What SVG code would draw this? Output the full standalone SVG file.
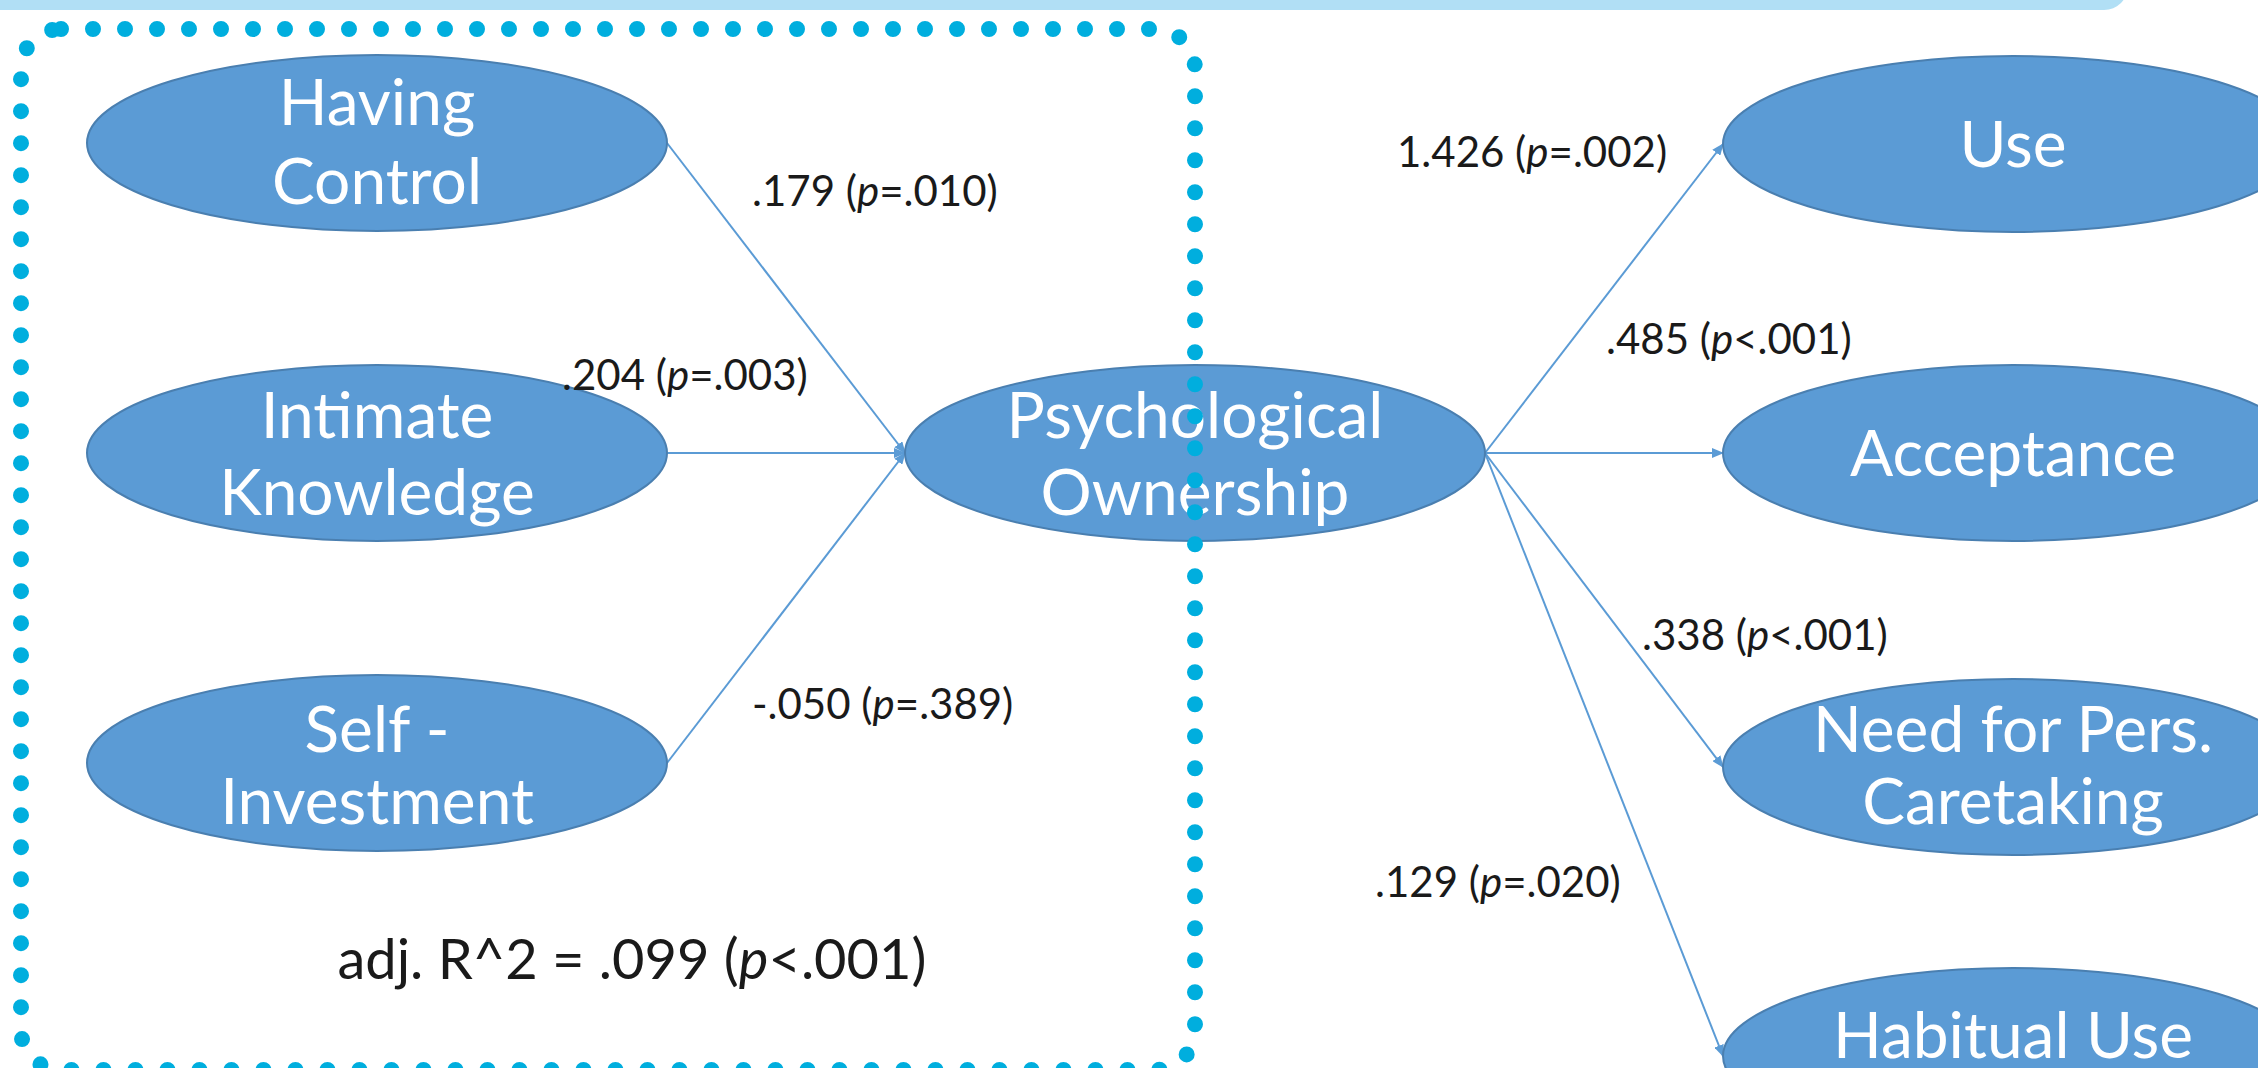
<svg xmlns="http://www.w3.org/2000/svg" width="2258" height="1068" viewBox="0 0 2258 1068">
<defs>
<style>
.node{fill:#5B9BD5;stroke:#4A7FB0;stroke-width:2}
.nt{font-family:Lato,"Open Sans",sans-serif;font-size:64px;fill:#ffffff;text-anchor:middle}
.lbl{font-family:Lato,"Open Sans",sans-serif;font-size:42px;fill:#1a1a1a}
.big{font-family:Lato,"Open Sans",sans-serif;font-size:56px;fill:#1a1a1a;text-anchor:middle}
.conn{stroke:#5B9BD5;stroke-width:2;fill:none;marker-end:url(#arr)}
</style>
<marker id="arr" viewBox="0 0 12 10" refX="11" refY="5" markerWidth="12" markerHeight="10" markerUnits="userSpaceOnUse" orient="auto">
<path d="M0,0 L12,5 L0,10 Z" fill="#5B9BD5"/>
</marker>
</defs>
<rect x="0" y="0" width="2258" height="1068" fill="#ffffff"/>
<rect x="-40" y="-60" width="2168" height="70" rx="24" fill="#B1DFF5"/>
<g id="connectors">
<line class="conn" x1="667" y1="143" x2="905" y2="453"/>
<line class="conn" x1="667" y1="453" x2="905" y2="453"/>
<line class="conn" x1="667" y1="763" x2="905" y2="453"/>
<line class="conn" x1="1485" y1="453" x2="1723" y2="144"/>
<line class="conn" x1="1485" y1="453" x2="1723" y2="453"/>
<line class="conn" x1="1485" y1="453" x2="1723" y2="767"/>
<line class="conn" x1="1485" y1="453" x2="1723" y2="1056"/>
</g>
<g id="having-control"><ellipse class="node" cx="377" cy="143" rx="290" ry="88"/><text class="nt" x="377" y="125">Having</text><text class="nt" x="377" y="204">Control</text></g>
<g id="intimate-knowledge"><ellipse class="node" cx="377" cy="453" rx="290" ry="88"/><text class="nt" x="377" y="438">Intimate</text><text class="nt" x="377" y="515">Knowledge</text></g>
<g id="self-investment"><ellipse class="node" cx="377" cy="763" rx="290" ry="88"/><text class="nt" x="377" y="752">Self -</text><text class="nt" x="377" y="824">Investment</text></g>
<g id="psychological-ownership"><ellipse class="node" cx="1195" cy="453" rx="290" ry="88"/><text class="nt" x="1195" y="438">Psychological</text><text class="nt" x="1195" y="515">Ownership</text></g>
<g id="use"><ellipse class="node" cx="2013" cy="144" rx="290" ry="88"/><text class="nt" x="2013" y="167">Use</text></g>
<g id="acceptance"><ellipse class="node" cx="2013" cy="453" rx="290" ry="88"/><text class="nt" x="2013" y="476">Acceptance</text></g>
<g id="need-caretaking"><ellipse class="node" cx="2013" cy="767" rx="290" ry="88"/><text class="nt" x="2013" y="752">Need for Pers.</text><text class="nt" x="2013" y="824">Caretaking</text></g>
<g id="habitual-use"><ellipse class="node" cx="2013" cy="1056" rx="290" ry="88"/><text class="nt" x="2013" y="1058">Habitual Use</text></g>
<g id="labels">
<text class="lbl" x="752" y="206">.179 (<tspan font-style="italic">p</tspan>=.010)</text>
<text class="lbl" x="562" y="390">.204 (<tspan font-style="italic">p</tspan>=.003)</text>
<text class="lbl" x="752" y="719">-.050 (<tspan font-style="italic">p</tspan>=.389)</text>
<text class="lbl" x="1397" y="167">1.426 (<tspan font-style="italic">p</tspan>=.002)</text>
<text class="lbl" x="1606" y="354">.485 (<tspan font-style="italic">p</tspan>&lt;.001)</text>
<text class="lbl" x="1642" y="650">.338 (<tspan font-style="italic">p</tspan>&lt;.001)</text>
<text class="lbl" x="1375" y="897">.129 (<tspan font-style="italic">p</tspan>=.020)</text>
<text class="big" x="632" y="979">adj. R^2 = .099 (<tspan font-style="italic">p</tspan>&lt;.001)</text>
</g>
<g id="dotted-frame">
<rect x="21" y="29" width="1174" height="1041" rx="40" fill="none" stroke="#00AEDE" stroke-width="16" stroke-linecap="round" stroke-dasharray="0 32"/>
</g>
</svg>
